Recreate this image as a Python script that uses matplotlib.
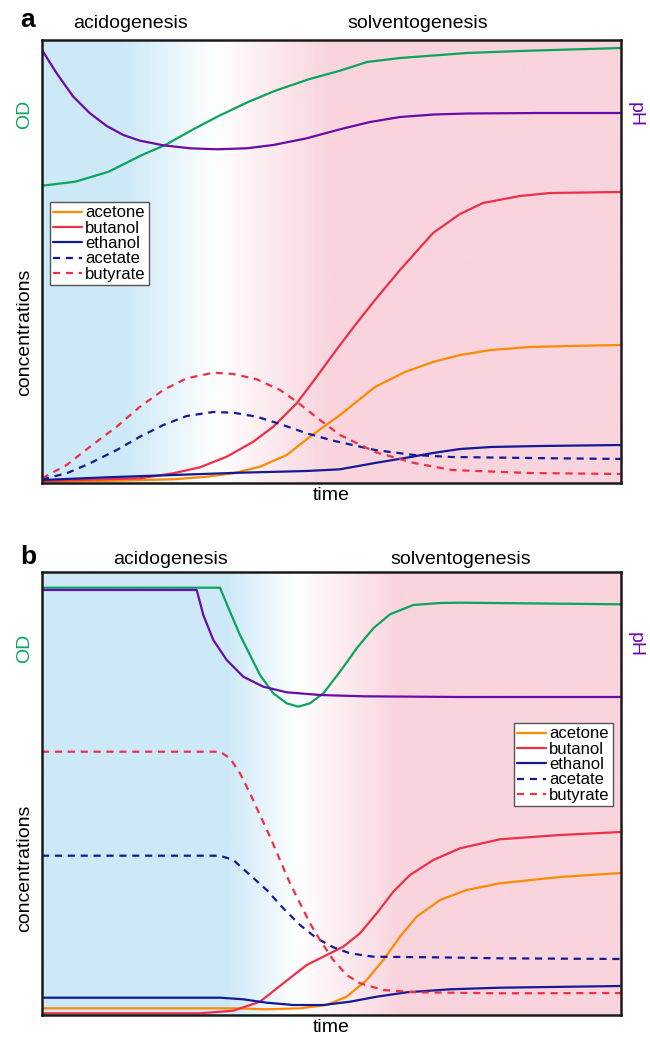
import numpy as np
import matplotlib
matplotlib.use("Agg")
import matplotlib.pyplot as plt

plt.rcParams['font.family'] = ['Liberation Sans', 'DejaVu Sans']

# arbitrary units: time 0..579, values 0..443
T_MAX, V_MAX = 579, 443

# ---- panel a ----
a_od_t = [0, 33.3, 66.7, 100, 123.3, 150, 176.7, 206.7, 233.3, 266.7, 298, 325, 358, 425, 478, 528, 579]
a_od_v = [297.3, 301.3, 311.3, 328, 338, 353, 367, 381.3, 392.3, 403.7, 412.3, 421, 425, 430, 432, 433.5, 435]

a_ph_t = [0, 14.7, 31.3, 48, 64.7, 81.3, 98, 121.3, 148, 174.7, 204.7, 231.3, 264.7, 298, 328, 358, 392, 425, 498, 579]
a_ph_v = [433, 409.7, 386.3, 369.7, 357, 348, 342.3, 337.7, 334.7, 333.7, 334.7, 338, 344.7, 353.7, 361, 366, 368.5, 369.5, 370, 370]

a_butanol_t = [0, 58, 98, 131.3, 158, 184.7, 211.3, 231.3, 254.7, 274.7, 298, 314, 333, 358, 391, 418, 441, 478, 508, 579]
a_butanol_v = [2, 3.5, 4.7, 9.7, 15.7, 26.3, 41.3, 56.3, 79.7, 106.3, 138, 159, 183, 213, 250, 269, 280, 287, 290, 291]

a_acetone_t = [0, 58, 131.3, 164.7, 191.3, 218, 244.7, 268, 298, 318, 333, 363, 391, 418, 449, 488, 528, 579]
a_acetone_v = [1, 2, 3.7, 6.3, 9.7, 16.3, 28, 46.3, 68, 84, 96, 111, 121, 128, 133, 136, 137, 138]

a_ethanol_t = [0, 64.7, 131.3, 198, 264.7, 298, 333, 363, 391, 418, 449, 498, 579]
a_ethanol_v = [3, 5.7, 8, 10.3, 12, 13.7, 20, 25, 30, 34, 36, 37, 38]

a_acetate_t = [0, 24.7, 48, 74.7, 98, 121.3, 144.7, 171.3, 191.3, 214.7, 238, 264.7, 291.3, 333, 372, 410, 487, 579]
a_acetate_v = [3.7, 9.7, 19.7, 33, 46.3, 58, 67, 71, 70.3, 66.3, 59, 49.7, 42.3, 33, 28, 26, 25, 24]

a_butyrate_t = [0, 24.7, 48, 74.7, 98, 121.3, 144.7, 171.3, 191.3, 214.7, 238, 254.7, 278, 298, 333, 372, 410, 487, 579]
a_butyrate_v = [4.7, 18, 36.3, 56.3, 76.3, 93, 104.7, 110.3, 109, 103.7, 93, 81.3, 63, 48, 31, 20, 13, 10, 9]

# ---- panel b ----
b_od_t = [0, 178, 188, 198, 208, 218, 231.3, 244.7, 256.3, 268, 281.3, 298, 314.7, 331.3, 348, 371.3, 398, 418, 579]
b_od_v = [427.3, 427.3, 403.3, 380, 360, 340, 321.7, 311.7, 308.3, 311.7, 321.7, 343.3, 366.7, 386.7, 400.7, 410, 412, 412.3, 410.7]

b_ph_t = [0, 154.7, 161.3, 171.3, 184.7, 201.3, 221.3, 244.7, 278, 321.3, 418, 579]
b_ph_v = [425, 425, 400, 375, 355, 338.3, 328.3, 322.7, 320, 318.7, 318, 318]

b_butyrate_t = [0, 178, 188, 198, 208, 218, 228, 238, 248, 258, 268, 278, 291.3, 304.7, 318, 341.3, 374.7, 458, 579]
b_butyrate_v = [263.3, 263.3, 256.7, 241.7, 221.7, 200, 178.3, 155, 131.7, 111.7, 91.7, 75, 55, 40, 31.7, 25, 22.7, 21.7, 22]

b_acetate_t = [0, 178, 191.3, 208, 224.7, 241.3, 258, 274.7, 291.3, 308, 331.3, 391.3, 458, 579]
b_acetate_v = [159.3, 159.3, 155, 140, 125, 106.7, 90, 76.7, 67.7, 61.7, 58.3, 57.7, 56.7, 56]

b_butanol_t = [0, 158, 191.3, 218, 241.3, 264.7, 284.7, 301.3, 318, 334.7, 351.3, 368, 391.3, 418, 458, 518, 579]
b_butanol_v = [1.7, 1.7, 4.3, 13.3, 31.7, 50, 60, 68.3, 81.7, 101.7, 123.3, 140, 155, 166.7, 175.7, 180, 183]

b_acetone_t = [0, 191.3, 224.7, 258, 284.7, 304.7, 324.7, 341.3, 358, 374.7, 398, 424.7, 458, 518, 579]
b_acetone_v = [6.7, 6.7, 5.7, 6.7, 10, 18.3, 35, 55, 78.3, 98.3, 115, 125, 131.7, 138, 142]

b_ethanol_t = [0, 178, 201.3, 224.7, 251.3, 281.3, 308, 334.7, 364.7, 408, 458, 579]
b_ethanol_v = [17.3, 17.3, 15.7, 12.3, 10, 10, 13.3, 18.3, 22.7, 25.7, 27.3, 29]

labels = ["acetone", "butanol", "ethanol", "acetate", "butyrate"]

GREEN = "#0aa55a"
PURPLE = "#6a0aa8"
ORANGE = "#ff8a00"
RED = "#ee2f45"
NAVY = "#141a96"
BLUE_BG = np.array([205, 233, 248]) / 255
PINK_BG = np.array([249, 212, 221]) / 255
DASH = (0, (3.2, 2.6))


def background(ax, blue_end, white_at, pink_start):
    xs = np.linspace(0, 1, 600)
    img = np.zeros((1, len(xs), 3))
    for c in range(3):
        img[0, :, c] = np.interp(xs, [0, blue_end, white_at, pink_start, 1],
                                 [BLUE_BG[c], BLUE_BG[c], 1.0, PINK_BG[c], PINK_BG[c]])
    ax.imshow(img, extent=(0, T_MAX, 0, V_MAX), aspect='auto', zorder=0)


def panel(fig, rect, d, bg, legend_anchor, legend_loc):
    ax = fig.add_axes(rect)
    background(ax, *bg)
    kw = dict(lw=1.6, solid_joinstyle='round', solid_capstyle='round')
    ax.plot(*d['od'], color=GREEN, **kw)
    ax.plot(*d['ph'], color=PURPLE, **kw)
    h1, = ax.plot(*d['acetone'], color=ORANGE, **kw)
    h2, = ax.plot(*d['butanol'], color=RED, **kw)
    h3, = ax.plot(*d['ethanol'], color=NAVY, **kw)
    h4, = ax.plot(*d['acetate'], color=NAVY, lw=1.6, ls=DASH)
    h5, = ax.plot(*d['butyrate'], color=RED, lw=1.6, ls=DASH)
    ax.set_xlim(0, T_MAX)
    ax.set_ylim(0, V_MAX)
    ax.set_xticks([])
    ax.set_yticks([])
    for s in ax.spines.values():
        s.set_linewidth(1.8)
        s.set_color("#1a1a1a")
    leg = ax.legend([h1, h2, h3, h4, h5], labels, loc=legend_loc, bbox_to_anchor=legend_anchor,
                    borderaxespad=0, fontsize=12, labelspacing=0.02, handlelength=1.7,
                    handletextpad=0.2, borderpad=0.2, fancybox=False, framealpha=1)
    leg.get_frame().set_edgecolor("#555555")
    leg.get_frame().set_linewidth(1.0)
    return ax


fig = plt.figure(figsize=(6.5, 10.38), dpi=100)
W, H = 650, 1038


def px(x, y):
    return x / W, 1 - y / H


data_a = {'od': (a_od_t, a_od_v), 'ph': (a_ph_t, a_ph_v),
          'acetone': (a_acetone_t, a_acetone_v), 'butanol': (a_butanol_t, a_butanol_v),
          'ethanol': (a_ethanol_t, a_ethanol_v), 'acetate': (a_acetate_t, a_acetate_v),
          'butyrate': (a_butyrate_t, a_butyrate_v)}
data_b = {'od': (b_od_t, b_od_v), 'ph': (b_ph_t, b_ph_v),
          'acetone': (b_acetone_t, b_acetone_v), 'butanol': (b_butanol_t, b_butanol_v),
          'ethanol': (b_ethanol_t, b_ethanol_v), 'acetate': (b_acetate_t, b_acetate_v),
          'butyrate': (b_butyrate_t, b_butyrate_v)}

panel(fig, [42 / W, 1 - 483 / H, 579 / W, 443 / H], data_a, (0.14, 0.30, 0.50),
      (0.014, 0.634), 'upper left')
panel(fig, [42 / W, 1 - 1015 / H, 579 / W, 443 / H], data_b, (0.32, 0.44, 0.62),
      (0.986, 0.659), 'upper right')

fs = 14
for letter, y0, ac_x, so_x, od_y, ph_y, conc_y, time_y in [
        ("a", 20, 130, 418, 114, 114, 332, 496),
        ("b", 557, 171, 461, 648, 645, 868, 1027)]:
    fig.text(*px(28, y0), letter, fontsize=19, fontweight='bold', ha='center', va='center')
    fig.text(*px(ac_x, y0 + 3), "acidogenesis", fontsize=fs, ha='center', va='center')
    fig.text(*px(so_x, y0 + 3), "solventogenesis", fontsize=fs, ha='center', va='center')
    fig.text(*px(25, od_y), "OD", fontsize=fs, color=GREEN, rotation=90, ha='center', va='center')
    fig.text(*px(635, ph_y), "pH", fontsize=fs, color=PURPLE, rotation=270, ha='center', va='center')
    fig.text(*px(25, conc_y), "concentrations", fontsize=fs, rotation=90, ha='center', va='center')
    fig.text(*px(331, time_y), "time", fontsize=fs, ha='center', va='center')

fig.savefig("out.png", dpi=100)
